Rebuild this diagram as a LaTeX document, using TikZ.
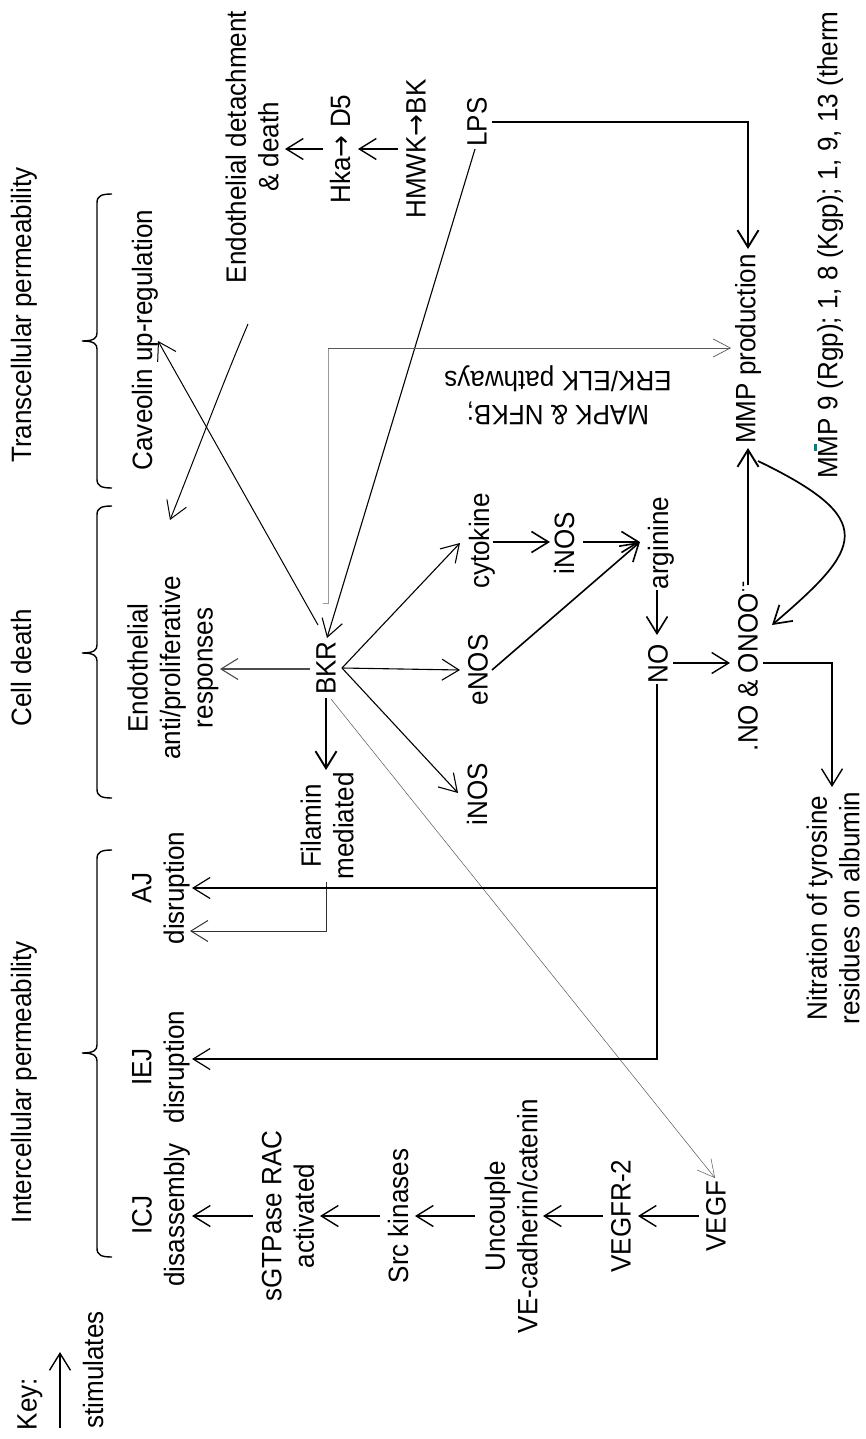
\documentclass[tikz,border=0pt]{standalone}
\usepackage{fontspec}
\setmainfont{Liberation Sans}[FakeStretch=0.93]
\newfontfamily\arrowfont{DejaVu Sans}[FakeStretch=0.93]
\usetikzlibrary{arrows.meta}
\newcommand\mybrace[3]{%
  \draw[bracestyle] (112,#1) .. controls (101,#1) and (97,{#1+2}) .. (97,{#1+9})
    -- (97,{#2-8}) .. controls (97,{#2-3}) and (94,#2) .. (82,#2)
    .. controls (94,#2) and (97,{#2+3}) .. (97,{#2+8})
    -- (97,{#3-9}) .. controls (97,{#3-2}) and (101,#3) .. (112,#3);}
\newcommand\myto{{\arrowfont →}}
\tikzset{
  lbl/.style={rotate=90, inner sep=0pt, align=center, font=\fontsize{28}{32.5}\selectfont},
  hlbl/.style={rotate=180, inner sep=0pt, align=center, font=\fontsize{28}{34}\selectfont},
  bracestyle/.style={line width=1.4pt},
  arr/.style={-{Straight Barb[length=17pt,width=21pt]}, line width=1.4pt},
  arrbold/.style={-{Straight Barb[length=17pt,width=21pt]}, line width=1.9pt},
  arrthin/.style={-{Straight Barb[length=17pt,width=18pt]}, line width=0.7pt, draw=black!65},
}
\begin{document}
\begin{tikzpicture}[x=1pt,y=-1pt]
\useasboundingbox (0,0) rectangle (865,1439);
\fill[white] (0,0) rectangle (865,1439);
\clip (0,0) rectangle (865,1439);

% ---------- left labels and braces ----------
\node[lbl] (keyt) at (30,1404) {Key:};
\node[lbl] (stim) at (93,1370) {stimulates};
\coordinate (keyA) at (60,1428);
\coordinate (keyB) at (60,1352);
\draw[arr] (keyA) -- (keyB);

\node[lbl] (trans) at (24,315) {Transcellular permeability};
\node[lbl] (celld) at (21,668) {Cell death};
\node[lbl] (inter) at (24,1082) {Intercellular permeability};
\mybrace{194}{341}{488}
\mybrace{506}{653}{798}
\mybrace{850}{1053}{1257}

% ---------- column nodes ----------
\node[lbl] (cav) at (145,340) {Caveolin up-regulation};
\node[lbl] (endo) at (173,668) {Endothelial\\anti/proliferative\\responses};
\node[lbl] (aj) at (161,888) {AJ\\disruption};
\node[lbl] (iej) at (161,1067) {IEJ\\disruption};
\node[lbl] (icj) at (161,1215) {ICJ\\disassembly};

\node[lbl] (det) at (252,147) {Endothelial detachment\\\& death};
\node[lbl] (hka) at (340,149) {Hka\myto\ D5};
\node[lbl] (hmwk) at (416,149) {HMWK\myto BK};
\node[lbl] (lps) at (477,122) {LPS};

\node[lbl] (bkr) at (326,668) {BKR};
\node[lbl] (fil) at (327,826) {Filamin\\mediated};
\node[lbl] (sgtp) at (288,1216) {sGTPase RAC\\activated};
\node[lbl] (src) at (398,1216) {Src kinases};
\node[lbl] (unc) at (511,1216) {Uncouple\\VE-cadherin/catenin};
\node[lbl] (vegfr) at (621,1216) {VEGFR-2};
\node[lbl] (vegf) at (716,1216) {VEGF};

\node[lbl] (cyto) at (482,541) {cytokine};
\node[lbl] (inosa) at (564,543) {iNOS};
\node[lbl] (argi) at (661,543) {arginine};
\node[lbl] (enos) at (478,670) {eNOS};
\node[lbl] (inosb) at (477,794) {iNOS};
\node[lbl] (no) at (658,664) {NO};
\node[lbl] (onoo) at (748,666) {.NO \& ONOO\textsuperscript{·-}};
\node[lbl] (mmp) at (748,349) {MMP production};
\node[lbl, anchor=west] (mmpnine) at (830,479) {MMP 9 (Rgp); 1, 8 (Kgp); 1, 9, 13 (therm};
\node[lbl] (nitr) at (833,908) {Nitration of tyrosine\\residues on albumin};
\node[hlbl] (mapk) at (558,395) {MAPK \& NFKB;\\ERK/ELK pathways};
\fill[teal] (814,444) rectangle (817,451);

% ---------- connector end points ----------
\coordinate (hmwkL) at (398,149);
\coordinate (hkaR) at (358,149);
\coordinate (hkaL) at (323,149);
\coordinate (detR) at (285,149);
\coordinate (lpsR) at (492,122);
\coordinate (lpsB) at (475,149);
\coordinate (mmpT) at (748,249);
\coordinate (bkrT) at (327,638);
\coordinate (bkrTL) at (318,625);
\coordinate (cavR) at (158,341);
\coordinate (detB) at (248,324);
\coordinate (endoT) at (170,520);
\coordinate (gA) at (323,603);
\coordinate (gB) at (328,603);
\coordinate (gC) at (328,348);
\coordinate (mmpL) at (731,348);
\coordinate (bkrL) at (310,669);
\coordinate (endoR) at (220,669);
\coordinate (bkrR) at (342,668);
\coordinate (cytoL) at (460,543);
\coordinate (enosL) at (460,670);
\coordinate (inosbL) at (458,793);
\coordinate (bkrB) at (326,698);
\coordinate (filT) at (326,770);
\coordinate (bkrBR) at (331,699);
\coordinate (vegfT) at (715,1178);
\coordinate (filB) at (326,882);
\coordinate (filC) at (326,931);
\coordinate (ajB) at (190,931);
\coordinate (ajA) at (192,888);
\coordinate (iejA) at (192,1059);
\coordinate (cytoR) at (493,542);
\coordinate (inosaL) at (550,542);
\coordinate (inosaR) at (583,542);
\coordinate (argiL) at (640,542);
\coordinate (enosR) at (492,670);
\coordinate (argiB) at (657,590);
\coordinate (noT) at (657,635);
\coordinate (noR) at (673,663);
\coordinate (onooL) at (730,663);
\coordinate (noB) at (657,684);
\coordinate (noJ) at (657,888);
\coordinate (noC) at (657,1059);
\coordinate (onooT) at (748,585);
\coordinate (mmpB) at (748,448);
\coordinate (mmpBR) at (758,461);
\coordinate (onooTR) at (772,625);
\coordinate (onooR) at (763,663);
\coordinate (nitT) at (832,787);
\coordinate (uncR) at (475,1216);
\coordinate (srcL) at (415,1216);
\coordinate (srcR) at (380,1216);
\coordinate (sgtpL) at (320,1216);
\coordinate (sgtpR) at (253,1216);
\coordinate (icjL) at (192,1216);
\coordinate (vegfrR) at (603,1216);
\coordinate (uncL) at (543,1216);
\coordinate (vegfR) at (699,1216);
\coordinate (vegfrL) at (638,1216);

% ---------- connectors ----------
\draw[arr] (hmwkL) -- (hkaR);
\draw[arr] (hkaL) -- (detR);
\draw[arrbold] (lpsR) -| (mmpT);
\draw[arr, line width=1.1pt] (lpsB) -- (bkrT);
\draw[arr, line width=1.0pt] (bkrTL) -- (cavR);
\draw[arr, line width=1.0pt] (detB) .. controls (222,385) and (196,455) .. (endoT);
\draw[line width=0.8pt, draw=black!40] (gA) -- (gB) -- (gC);
\draw[arrthin] (gC) -- (mmpL);
\draw[arr, line width=1.1pt, draw=black!70] (bkrL) -- (endoR);
\draw[arr, line width=1.1pt] (bkrR) -- (cytoL);
\draw[arr, line width=1.1pt] (bkrR) -- (enosL);
\draw[arr, line width=1.1pt] (bkrR) -- (inosbL);
\draw[arrbold] (bkrB) -- (filT);
\draw[arrthin, line width=0.5pt] (bkrBR) -- (vegfT);
\draw[arr, line width=1.0pt, draw=black!80] (filB) -- (filC) -- (ajB);
\draw[arr, line width=1.6pt] (cytoR) -- (inosaL);
\draw[arr, line width=1.6pt] (inosaR) -- (argiL);
\draw[arr, line width=1.6pt] (enosR) -- (argiL);
\draw[arr, line width=1.6pt] (argiB) -- (noT);
\draw[arr] (noR) -- (onooL);
\draw[arr, line width=1.2pt] (noB) -- (noC) -- (iejA);
\draw[arr, line width=1.2pt] (noJ) -- (ajA);
\draw[arrbold] (onooT) -- (mmpB);
\draw[arr, line width=1.7pt] (mmpBR) .. controls (880,520) and (862,548) .. (onooTR);
\draw[arr] (onooR) -| (nitT);
\draw[arr] (uncR) -- (srcL);
\draw[arr] (srcR) -- (sgtpL);
\draw[arr] (sgtpR) -- (icjL);
\draw[arr] (vegfrR) -- (uncL);
\draw[arr] (vegfR) -- (vegfrL);
\end{tikzpicture}
\end{document}
